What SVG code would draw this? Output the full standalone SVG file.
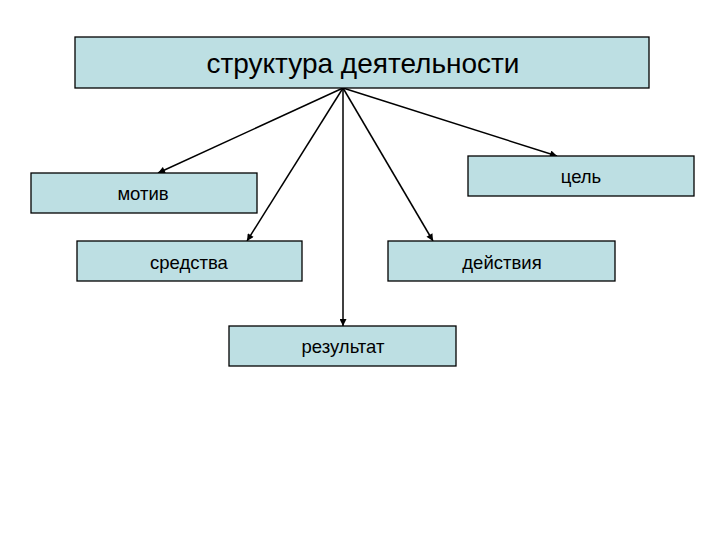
<svg xmlns="http://www.w3.org/2000/svg" width="720" height="540" viewBox="0 0 720 540">
<style>
.box{fill:#bddfe3;stroke:#000;stroke-width:1.3}
.t{font-family:"Liberation Sans",Arial,sans-serif;font-size:18.5px;fill:#000;text-anchor:middle}
.big{font-size:28px}
.c{stroke:#000;stroke-width:1.5;fill:none;marker-end:url(#ah)}
</style>
<defs>
<marker id="ah" viewBox="0 0 10 10" refX="10" refY="5" markerWidth="8" markerHeight="7" markerUnits="userSpaceOnUse" orient="auto">
<path d="M0,0 L10,5 L0,10 z" fill="#000"/>
</marker>
</defs>
<rect width="720" height="540" fill="#fff"/>
<g id="connectors">
<line class="c" x1="343" y1="88" x2="158" y2="173"/>
<line class="c" x1="343" y1="88" x2="247" y2="241"/>
<line class="c" x1="343" y1="88" x2="343" y2="326"/>
<line class="c" x1="343" y1="88" x2="433" y2="241"/>
<line class="c" x1="343" y1="88" x2="557" y2="156"/>
</g>
<g id="root">
<rect class="box" x="75" y="37" width="574" height="51"/>
<text class="t big" x="363" y="73">структура деятельности</text>
</g>
<g id="motiv">
<rect class="box" x="31" y="173" width="226" height="40"/>
<text class="t" x="143" y="200">мотив</text>
</g>
<g id="tsel">
<rect class="box" x="468" y="156" width="226" height="40"/>
<text class="t" x="581" y="183">цель</text>
</g>
<g id="sredstva">
<rect class="box" x="77" y="241" width="225" height="40"/>
<text class="t" x="189" y="269">средства</text>
</g>
<g id="deystviya">
<rect class="box" x="388" y="241" width="227" height="40"/>
<text class="t" x="502" y="269">действия</text>
</g>
<g id="rezultat">
<rect class="box" x="229" y="326" width="227" height="40"/>
<text class="t" x="343" y="353">результат</text>
</g>
</svg>
